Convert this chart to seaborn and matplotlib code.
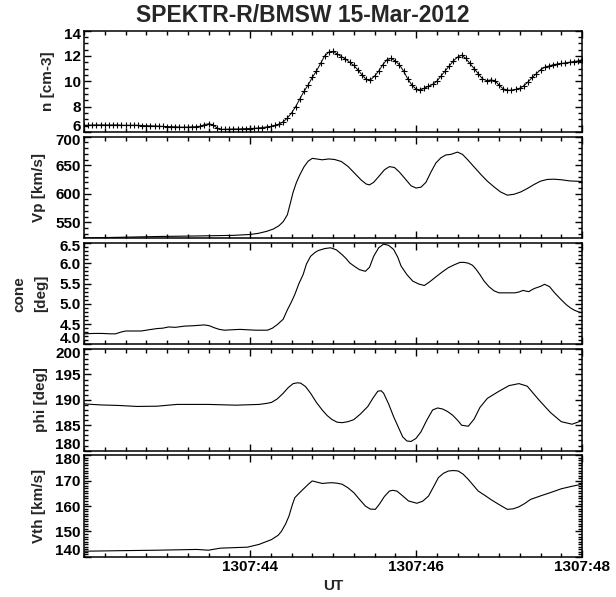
import numpy as np
import pandas as pd
import matplotlib
matplotlib.use("Agg")
import matplotlib.pyplot as plt
import matplotlib.transforms as mtransforms
from matplotlib.ticker import MultipleLocator, FixedLocator, FuncFormatter
import seaborn as sns

# ---------------- data (seconds after 13:07:00 UT) ----------------
n_time = np.round(np.arange(42.0, 48.0001, 0.05), 2)
n_vals = [6.52, 6.54, 6.55, 6.56, 6.56, 6.56, 6.55, 6.56, 6.56, 6.54,
          6.53, 6.53, 6.54, 6.53, 6.51, 6.50, 6.49, 6.48, 6.46, 6.44,
          6.43, 6.42, 6.41, 6.39, 6.38, 6.39, 6.41, 6.42, 6.45, 6.58,
          6.65, 6.58, 6.33, 6.20, 6.22, 6.22, 6.24, 6.24, 6.25, 6.27,
          6.27, 6.29, 6.32, 6.35, 6.40, 6.44, 6.52, 6.63, 6.80, 7.10,
          7.50, 8.00, 8.60, 9.20, 9.70, 10.30, 10.80, 11.40, 12.00, 12.30,
          12.35, 12.15, 11.95, 11.75, 11.50, 11.25, 10.90, 10.50, 10.15, 10.10,
          10.40, 10.80, 11.30, 11.70, 11.80, 11.60, 11.30, 10.80, 10.20, 9.70,
          9.40, 9.30, 9.45, 9.60, 9.75, 10.00, 10.40, 10.80, 11.20, 11.60,
          11.90, 12.05, 11.80, 11.40, 11.00, 10.60, 10.20, 10.05, 10.10, 10.05,
          9.70, 9.40, 9.30, 9.30, 9.35, 9.45, 9.65, 9.95, 10.30, 10.60,
          10.90, 11.10, 11.20, 11.30, 11.35, 11.40, 11.45, 11.50, 11.55, 11.60,
          11.70]

vp_time = [42.00, 42.40, 42.90, 43.40, 43.80, 44.00, 44.10, 44.20, 44.28, 44.35,
           44.40, 44.45, 44.48, 44.52, 44.56, 44.60, 44.65, 44.70, 44.75, 44.80,
           44.87, 44.95, 45.02, 45.10, 45.18, 45.26, 45.34, 45.40, 45.44, 45.49,
           45.55, 45.62, 45.68, 45.74, 45.80, 45.87, 45.94, 46.00, 46.06, 46.12,
           46.18, 46.24, 46.30, 46.36, 46.42, 46.50, 46.56, 46.62, 46.70, 46.78,
           46.86, 46.94, 47.02, 47.10, 47.18, 47.26, 47.34, 47.42, 47.50, 47.58,
           47.66, 47.75, 47.85, 47.92, 48.00]
vp_vals = [522.5, 523.5, 525.0, 526.0, 527.0, 528.5, 530.5, 534.0, 538.0, 544.0,
           551.0, 563.0, 580.0, 603.0, 620.0, 633.0, 647.0, 657.0, 662.0, 661.0,
           659.5, 661.0, 660.0, 656.5, 648.0, 636.0, 624.0, 617.0, 615.5, 620.0,
           630.0, 642.0, 647.5, 646.0, 638.0, 626.0, 614.0, 610.0, 611.5, 620.0,
           638.0, 654.0, 663.0, 668.0, 669.0, 673.0, 669.0, 660.0, 647.0, 634.0,
           622.0, 612.0, 603.0, 597.5, 599.0, 603.0, 609.0, 616.0, 622.0, 625.0,
           625.5, 624.5, 622.5, 622.0, 621.5]

cone_time = [42.00, 42.12, 42.22, 42.32, 42.38, 42.44, 42.50, 42.60, 42.69, 42.78,
             42.88, 42.95, 43.02, 43.10, 43.21, 43.32, 43.45, 43.51, 43.57, 43.63,
             43.69, 43.78, 43.88, 43.97, 44.07, 44.14, 44.21, 44.27, 44.33, 44.40,
             44.45, 44.50, 44.54, 44.59, 44.64, 44.68, 44.73, 44.78, 44.82, 44.90,
             44.97, 45.04, 45.11, 45.16, 45.20, 45.26, 45.32, 45.39, 45.44, 45.49,
             45.55, 45.61, 45.67, 45.73, 45.78, 45.82, 45.89, 45.96, 46.03, 46.10,
             46.17, 46.25, 46.32, 46.39, 46.46, 46.53, 46.58, 46.63, 46.68, 46.72,
             46.77, 46.82, 46.88, 46.94, 47.00, 47.10, 47.19, 47.24, 47.29, 47.33,
             47.36, 47.40, 47.43, 47.50, 47.55, 47.61, 47.67, 47.74, 47.81, 47.86,
             47.91, 47.96, 48.00]
cone_vals = [4.26, 4.27, 4.27, 4.26, 4.26, 4.30, 4.33, 4.33, 4.33, 4.36,
             4.39, 4.40, 4.43, 4.42, 4.45, 4.46, 4.48, 4.46, 4.41, 4.37,
             4.35, 4.36, 4.37, 4.36, 4.35, 4.35, 4.35, 4.40, 4.49, 4.62,
             4.85, 5.05, 5.23, 5.50, 5.72, 5.98, 6.17, 6.26, 6.31, 6.36,
             6.38, 6.33, 6.21, 6.11, 6.01, 5.92, 5.84, 5.80, 5.90, 6.17,
             6.38, 6.47, 6.44, 6.34, 6.15, 5.93, 5.72, 5.56, 5.49, 5.45,
             5.55, 5.68, 5.79, 5.89, 5.96, 6.02, 6.02, 6.00, 5.95, 5.86,
             5.72, 5.56, 5.42, 5.32, 5.27, 5.27, 5.27, 5.29, 5.33, 5.31,
             5.30, 5.35, 5.38, 5.43, 5.48, 5.42, 5.27, 5.12, 4.98, 4.90,
             4.84, 4.80, 4.78]

phi_time = [42.00, 42.20, 42.41, 42.64, 42.88, 43.12, 43.50, 43.83, 44.11, 44.20,
            44.26, 44.33, 44.40, 44.46, 44.52, 44.57, 44.61, 44.67, 44.73, 44.80,
            44.87, 44.93, 44.99, 45.05, 45.11, 45.18, 45.25, 45.33, 45.42, 45.48,
            45.54, 45.58, 45.61, 45.67, 45.73, 45.79, 45.84, 45.89, 45.94, 46.00,
            46.06, 46.13, 46.20, 46.26, 46.32, 46.38, 46.44, 46.50, 46.55, 46.63,
            46.70, 46.77, 46.86, 47.00, 47.12, 47.24, 47.34, 47.48, 47.62, 47.75,
            47.88, 48.00]
phi_vals = [189.2, 189.0, 188.9, 188.7, 188.75, 189.1, 189.1, 188.95, 189.1, 189.3,
            189.5, 190.2, 191.3, 192.4, 193.2, 193.35, 193.3, 192.6, 191.3, 189.5,
            188.0, 186.9, 186.1, 185.6, 185.5, 185.7, 186.1, 187.2, 188.7, 190.3,
            191.7, 191.8, 191.3, 189.2, 186.7, 184.5, 182.7, 181.9, 181.8, 182.4,
            183.7, 186.0, 188.0, 188.4, 188.2, 187.7, 187.0, 186.0, 185.0, 184.8,
            186.2, 188.5, 190.3, 191.7, 192.8, 193.2, 192.7, 190.0, 187.5, 185.7,
            185.2, 185.9]

vth_time = [42.00, 42.41, 42.88, 43.36, 43.50, 43.64, 43.97, 44.11, 44.26, 44.34,
            44.38, 44.43, 44.47, 44.51, 44.54, 44.59, 44.64, 44.70, 44.75, 44.81,
            44.87, 44.93, 44.99, 45.05, 45.11, 45.18, 45.25, 45.32, 45.39, 45.45,
            45.51, 45.56, 45.62, 45.68, 45.72, 45.77, 45.84, 45.91, 46.01, 46.08,
            46.15, 46.21, 46.27, 46.33, 46.39, 46.45, 46.51, 46.57, 46.63, 46.69,
            46.75, 46.83, 46.91, 47.00, 47.10, 47.17, 47.24, 47.31, 47.38, 47.50,
            47.62, 47.75, 47.88, 48.00]
vth_vals = [142.2, 142.4, 142.6, 142.9, 142.6, 143.4, 143.8, 144.9, 146.8, 148.5,
            150.1, 153.0, 156.1, 160.5, 163.3, 165.0, 166.6, 168.5, 169.9, 169.4,
            168.9, 169.1, 169.2, 169.0, 168.6, 167.2, 165.3, 162.6, 160.0, 158.8,
            158.7, 160.8, 163.8, 165.9, 166.2, 165.9, 164.0, 162.0, 161.1, 161.9,
            163.9, 167.5, 171.2, 172.9, 173.8, 174.0, 173.8, 172.5, 170.5, 168.2,
            165.9, 164.2, 162.4, 160.6, 158.7, 158.9, 159.7, 161.0, 162.6, 164.0,
            165.3, 166.8, 167.8, 168.6]

y_labels = ["n [cm-3]", "Vp [km/s]", "cone\n[deg]", "phi [deg]", "Vth [km/s]"]
x_tick_values = [44, 46, 48]
title_text = "SPEKTR-R/BMSW 15-Mar-2012"

# ---------------- style ----------------
sns.set_style("ticks")
plt.rcParams['font.family'] = ['Liberation Sans', 'DejaVu Sans']
plt.rcParams['font.weight'] = 'bold'
plt.rcParams['axes.labelweight'] = 'bold'

W, H = 616.0, 597.0
fig = plt.figure(figsize=(W / 100, H / 100), dpi=100)

series = [
    (n_time, n_vals, (6, 14), 2, 0.5, "%g", True),
    (vp_time, vp_vals, (522, 700), 50, 10, "%g", False),
    (cone_time, cone_vals, (4.0, 6.5), 0.5, 0.1, "%.1f", False),
    (phi_time, phi_vals, (180, 200), 5, 1, "%g", False),
    (vth_time, vth_vals, (140, 180), 10, 1, "%g", False),
]
label_x_px = [48, 39, 30, 41, 39]

left_px, right_px = 84.0, 582.0
top0, step, ph = 30.5, 106.2, 101.5
fs = 11
pad_pt = 2.5


def make_fmt(fmt, lo, hi):
    def f(v, p):
        if abs(v - lo) < 1e-6 or abs(v - hi) < 1e-6:
            return ""
        return fmt % v
    return f


for i, (tt, vv, ylim, major, minor, fmt, markers) in enumerate(series):
    top = top0 + i * step
    ax = fig.add_axes([left_px / W, 1 - (top + ph) / H, (right_px - left_px) / W, ph / H])
    df = pd.DataFrame({"t": tt, "v": vv})
    if markers:
        sns.lineplot(data=df, x="t", y="v", ax=ax, color="black", linewidth=0.7,
                     marker="+", markersize=5, markeredgewidth=0.8,
                     markeredgecolor="black", estimator=None, sort=False)
    else:
        sns.lineplot(data=df, x="t", y="v", ax=ax, color="black", linewidth=0.8,
                     estimator=None, sort=False)
    ax.set_xlim(42, 48)
    ax.set_ylim(*ylim)
    ax.xaxis.set_major_locator(FixedLocator(x_tick_values))
    ax.xaxis.set_minor_locator(MultipleLocator(0.25))
    ax.yaxis.set_major_locator(MultipleLocator(major))
    ax.yaxis.set_minor_locator(MultipleLocator(minor))
    ax.yaxis.set_major_formatter(FuncFormatter(make_fmt(fmt, ylim[0], ylim[1])))
    ax.tick_params(which="both", direction="in", top=True, right=True,
                   bottom=True, left=True, labelsize=fs, width=1.0,
                   color="black", labelcolor="black", pad=pad_pt)
    ax.tick_params(which="major", length=5)
    ax.tick_params(which="minor", length=2.6)
    for s in ax.spines.values():
        s.set_linewidth(1.1)
        s.set_color("black")
    ax.set_ylabel(y_labels[i], fontsize=fs, fontweight="bold", va="center",
                  linespacing=1.7)
    ax.yaxis.set_label_coords((label_x_px[i] - left_px) / (right_px - left_px), 0.5)

    # extreme y tick labels, nudged inside the panel height as in the reference
    lo, hi = ylim
    for val in np.arange(lo, hi + major * 0.5, major):
        pass
    ticks_at = [v for v in np.round(np.arange(np.ceil(lo / major) * major, hi + 1e-9, major), 6)]
    if abs(ticks_at[-1] - hi) < 1e-6:
        tr = ax.transAxes + mtransforms.ScaledTranslation(-pad_pt / 72, -4.5 / 100, fig.dpi_scale_trans)
        ax.text(0, 1, fmt % hi, transform=tr, ha="right", va="center",
                fontsize=fs, fontweight="bold", color="black")
    if abs(ticks_at[0] - lo) < 1e-6:
        tr = ax.transAxes + mtransforms.ScaledTranslation(-pad_pt / 72, 5.5 / 100, fig.dpi_scale_trans)
        ax.text(0, 0, fmt % lo, transform=tr, ha="right", va="center",
                fontsize=fs, fontweight="bold", color="black")

    if i < len(series) - 1:
        ax.set_xlabel("")
        ax.tick_params(labelbottom=False)
    else:
        ax.xaxis.set_major_formatter(FuncFormatter(lambda v, p: "1307:%02d" % round(v)))
        ax.set_xlabel("UT", fontsize=fs, fontweight="bold")
        ax.xaxis.set_label_coords(0.5, -0.215)

fig.text(303 / W, 1 - 16 / H, title_text, ha="center", va="center",
         fontsize=16.5, fontweight="bold")

fig.savefig("out.png", dpi=100)
